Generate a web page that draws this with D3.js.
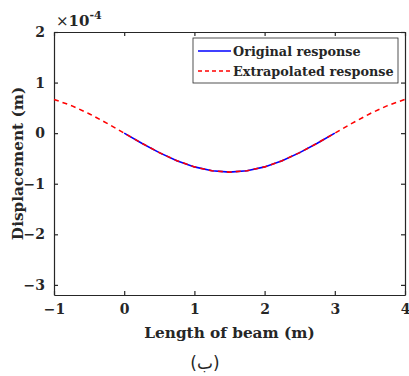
<!DOCTYPE html>
<html><head><meta charset="utf-8">
<script src="https://cdn.jsdelivr.net/npm/d3@7"></script>
<style>body{margin:0;background:#fff}svg text{font-family:"DejaVu Serif",serif;font-weight:bold;fill:#262626}</style>
</head><body><svg id="c" width="409" height="376"></svg>
<script>
const origX = [0,0.25,0.5,0.75,1,1.25,1.5,1.75,2,2.25,2.5,2.75,3];
const origY = [0,-0.199,-0.385,-0.544,-0.667,-0.744,-0.77,-0.744,-0.667,-0.544,-0.385,-0.199,0];
const extX = [-1,-0.75,-0.5,-0.25,0,0.25,0.5,0.75,1,1.25,1.5,1.75,2,2.25,2.5,2.75,3,3.25,3.5,3.75,4];
const extY = [0.667,0.544,0.385,0.199,0,-0.199,-0.385,-0.544,-0.667,-0.744,-0.77,-0.744,-0.667,-0.544,-0.385,-0.199,0,0.199,0.385,0.544,0.667];
const xTicks = [-1,0,1,2,3,4];
const yTicks = [-3,-2,-1,0,1,2];
const seriesNames = ["Original response","Extrapolated response"];

const svg = d3.select("#c");
const L=54,R=405,T=32,B=295;
const x = d3.scaleLinear().domain([-1,4]).range([L,R]);
const y = d3.scaleLinear().domain([-3.2,2]).range([B,T]);
const ax = "#262626";

const gx = svg.append("g").attr("transform",`translate(0,${B})`)
  .call(d3.axisBottom(x).tickValues(xTicks).tickSizeInner(-4).tickSizeOuter(0).tickPadding(9).tickFormat(d3.format("d")));
const gy = svg.append("g").attr("transform",`translate(${L},0)`)
  .call(d3.axisLeft(y).tickValues(yTicks).tickSizeInner(-4).tickSizeOuter(0).tickPadding(9).tickFormat(d3.format("d")));
const gx2 = svg.append("g").attr("transform",`translate(0,${T})`)
  .call(d3.axisTop(x).tickValues(xTicks).tickSizeInner(-4).tickSizeOuter(0).tickFormat(""));
const gy2 = svg.append("g").attr("transform",`translate(${R},0)`)
  .call(d3.axisRight(y).tickValues(yTicks).tickSizeInner(-4).tickSizeOuter(0).tickFormat(""));
[gx,gy,gx2,gy2].forEach(g=>{
  g.selectAll("path,line").attr("stroke",ax).attr("stroke-width",1.2);
  g.selectAll("text").attr("font-size",14).attr("fill",ax).style("font-family","'DejaVu Serif',serif").style("font-weight","bold");
});

const line = d3.line().x(d=>x(d[0])).y(d=>y(d[1]));
svg.append("path").datum(origX.map((v,i)=>[v,origY[i]]))
  .attr("d",line).attr("fill","none").attr("stroke","#0000ff").attr("stroke-width",1.6);
svg.append("path").datum(extX.map((v,i)=>[v,extY[i]]))
  .attr("d",line).attr("fill","none").attr("stroke","#ff0000").attr("stroke-width",1.6).attr("stroke-dasharray","5,4");

// exponent
const ex = svg.append("text").attr("x",L+2).attr("y",T-6).attr("font-size",15);
ex.append("tspan").style("font-weight","normal").text("×");
ex.append("tspan").text("10");
ex.append("tspan").attr("dy",-7).attr("font-size",11).text("-4");

// legend
const lg = svg.append("g");
lg.append("rect").attr("x",193).attr("y",38).attr("width",205).attr("height",45)
  .attr("fill","#fff").attr("stroke",ax).attr("stroke-width",0.8);
const cols=["#0000ff","#ff0000"], dash=[null,"4,3"];
seriesNames.forEach((n,i)=>{
  const yy = 51+i*20;
  lg.append("line").attr("x1",198).attr("x2",231).attr("y1",yy).attr("y2",yy)
    .attr("stroke",cols[i]).attr("stroke-width",1.6).attr("stroke-dasharray",dash[i]);
  lg.append("text").attr("x",233).attr("y",yy+5).attr("font-size",12.8).text(n);
});

svg.append("text").attr("x",(L+R)/2).attr("y",338).attr("text-anchor","middle").attr("font-size",15.3).text("Length of beam (m)");
svg.append("text").attr("transform",`translate(23,${(T+B)/2}) rotate(-90)`).attr("text-anchor","middle").attr("font-size",15.3).text("Displacement (m)");
svg.append("text").attr("x",205).attr("y",369).attr("text-anchor","middle").attr("font-size",17).style("font-family","'DejaVu Sans',sans-serif").style("font-weight","normal").text("(ب)");
</script></body></html>
